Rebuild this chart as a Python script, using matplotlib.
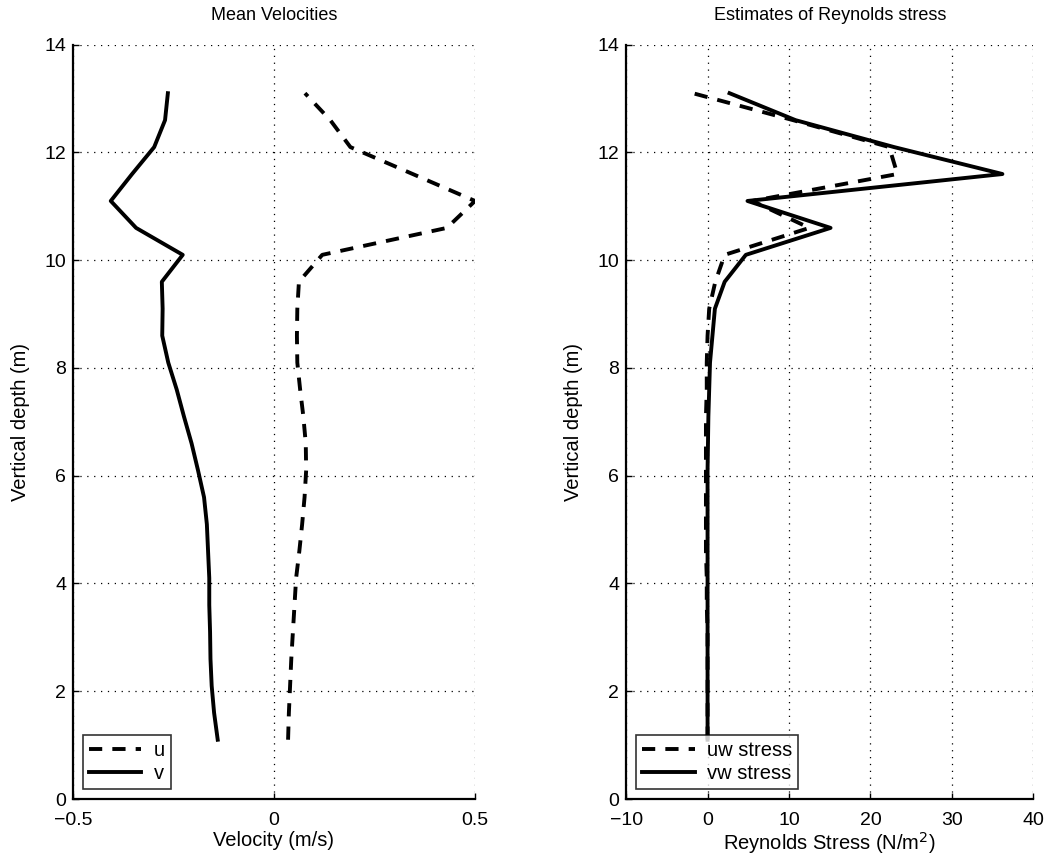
import numpy as np
import matplotlib.pyplot as plt

plt.rcParams['font.family'] = ['Liberation Sans', 'DejaVu Sans']
plt.rcParams['axes.unicode_minus'] = True

# depths of the bins (m)
depth = [1.1, 1.6, 2.1, 2.6, 3.1, 3.6, 4.1, 4.6, 5.1, 5.6, 6.1, 6.6, 7.1,
         7.6, 8.1, 8.6, 9.1, 9.6, 10.1, 10.6, 11.1, 11.6, 12.1, 12.6, 13.1]

# mean velocities (m/s)
u = [0.035, 0.037, 0.040, 0.043, 0.047, 0.051, 0.055, 0.063, 0.070, 0.076,
     0.080, 0.079, 0.073, 0.065, 0.058, 0.057, 0.058, 0.062, 0.12, 0.43,
     0.50, 0.345, 0.19, 0.14, 0.077]
v = [-0.140, -0.149, -0.155, -0.158, -0.159, -0.161, -0.161, -0.164, -0.167,
     -0.174, -0.189, -0.205, -0.224, -0.242, -0.263, -0.278, -0.277, -0.279,
     -0.227, -0.343, -0.406, -0.353, -0.298, -0.271, -0.264]

# Reynolds stress (N/m^2)
uw = [0.0, 0.0, 0.0, 0.0, 0.0, -0.1, -0.1, -0.2, -0.2, -0.2, -0.2, -0.2,
      -0.2, -0.1, -0.1, 0.0, 0.2, 0.95, 2.1, 12.5, 5.5, 23.3, 22.3, 10.5, -1.8]
vw = [0.0, 0.0, 0.0, 0.0, 0.0, 0.0, 0.0, 0.0, 0.0, 0.0, 0.0, 0.05, 0.1,
      0.2, 0.3, 0.6, 0.9, 2.1, 4.7, 15.1, 4.9, 36.2, 22.9, 10.8, 2.7]

fig = plt.figure(figsize=(10.47, 8.65), dpi=100)
ax1 = fig.add_axes([0.0697, 0.0763, 0.384, 0.872])
ax2 = fig.add_axes([0.598, 0.0763, 0.389, 0.872])

lw = 2.8
dash = (3.4, 2.6)
fs_tick = 14
fs_lab = 14.5
fs_title = 13


def style(ax):
    for s in ['top', 'right']:
        ax.spines[s].set_visible(False)
    for s in ['left', 'bottom']:
        ax.spines[s].set_linewidth(1.6)
    ax.tick_params(direction='in', length=4, width=1, labelsize=fs_tick)
    ax.tick_params(axis='x', pad=9)
    ax.tick_params(axis='y', pad=5)
    ax.grid(True, linestyle=(0, (1, 4.5)), color='black', linewidth=0.9)
    ax.set_axisbelow(True)
    ax.set_ylim(0, 14)
    ax.set_yticks(range(0, 15, 2))
    ax.set_ylabel('Vertical depth (m)', fontsize=fs_lab, labelpad=10)


def legend(ax):
    leg = ax.legend(loc='lower left', fontsize=fs_lab, frameon=True, fancybox=False,
                    edgecolor='black', handlelength=2.6, borderaxespad=0.5,
                    handletextpad=0.6, borderpad=0.3, labelspacing=0.2)
    leg.get_frame().set_linewidth(1.2)


# Mean velocities
ax1.plot(u, depth, color='black', lw=lw, dashes=dash, label='u')
ax1.plot(v, depth, color='black', lw=lw, label='v')
style(ax1)
ax1.set_xlim(-0.5, 0.5)
ax1.set_xticks([-0.5, 0, 0.5])
ax1.set_xticklabels(['\u22120.5', '0', '0.5'])
ax1.set_xlabel('Velocity (m/s)', fontsize=fs_lab, labelpad=2)
ax1.set_title('Mean Velocities', fontsize=fs_title, pad=18)
legend(ax1)

# Reynolds stress
ax2.plot(uw, depth, color='black', lw=lw, dashes=dash, label='uw stress')
ax2.plot(vw, depth, color='black', lw=lw, label='vw stress')
style(ax2)
ax2.set_xlim(-10, 40)
ax2.set_xticks(range(-10, 41, 10))
ax2.set_xlabel('Reynolds Stress (N/m$^2$)', fontsize=fs_lab, labelpad=1)
ax2.set_title('Estimates of Reynolds stress', fontsize=fs_title, pad=18)
legend(ax2)

fig.savefig('out.png', dpi=100)
